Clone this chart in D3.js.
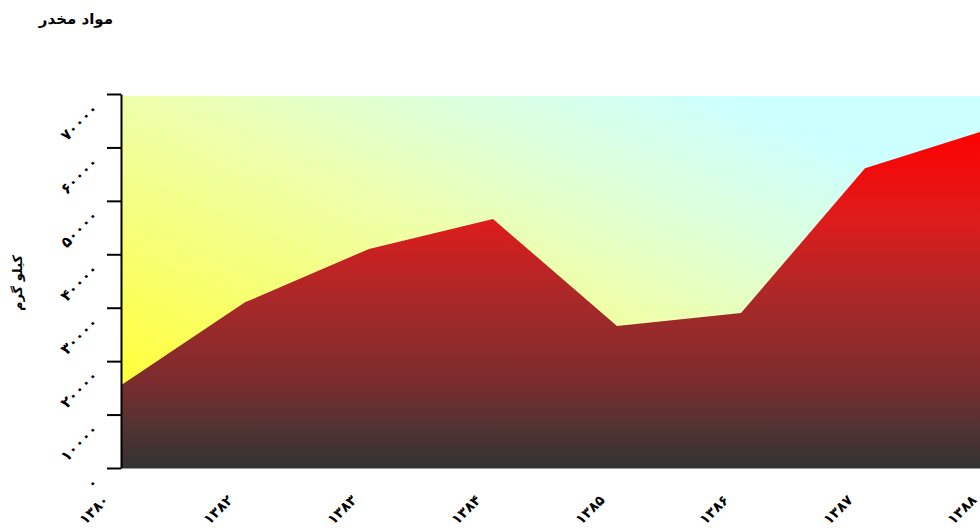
<!DOCTYPE html>
<html>
<head>
<meta charset="utf-8">
<script src="https://cdn.jsdelivr.net/npm/d3@7"></script>
<style>
  body { margin: 0; background: #fff; }
  text { font-family: "DejaVu Sans", sans-serif; }
</style>
</head>
<body>
<div id="chart"></div>
<script>
// data
var years = [1380, 1382, 1383, 1384, 1385, 1386, 1387, 1388];
var kilos = [15500, 31000, 41000, 46600, 26600, 29000, 56100, 63400];
var yTicks = [0, 10000, 20000, 30000, 40000, 50000, 60000, 70000];
var title = "مواد مخدر";
var yTitle = "کیلو گرم";

var svgWidth = 980;
var svgHeight = 531;

// plot box
var plotLeft = 121, plotRight = 989, plotTop = 96, plotBottom = 468;

var faDigits = "۰۱۲۳۴۵۶۷۸۹";
function toFa(n) {
  return String(n).replace(/\d/g, d => faDigits[d]);
}

var svg = d3.select("#chart")
  .append("svg")
  .attr("width", svgWidth)
  .attr("height", svgHeight);

var x = d3.scalePoint()
  .domain(years)
  .range([plotLeft, plotRight]);

var y = d3.scaleLinear()
  .domain([0, 70000])
  .range([plotBottom, 94]);

var defs = svg.append("defs");

// background: yellow bottom-left to cyan top-right
var bg = defs.append("linearGradient")
  .attr("id", "bgGrad")
  .attr("x1", 0).attr("y1", 1)
  .attr("x2", 1).attr("y2", 0);
[[0, "#ffff22"], [0.15, "#ffff44"], [0.5, "#eeffaa"], [0.68, "#dcffdc"], [0.85, "#ccffff"], [1, "#ccffff"]]
  .forEach(s => bg.append("stop").attr("offset", s[0]).attr("stop-color", s[1]));

// area: red at top to dark grey at bottom
var ag = defs.append("linearGradient")
  .attr("id", "areaGrad")
  .attr("x1", 0).attr("y1", 0)
  .attr("x2", 0).attr("y2", 1);
[[0, "#ff0000"], [0.27, "#dd1c1c"], [0.5, "#aa2828"], [0.75, "#7a2c2e"], [0.87, "#553232"], [1, "#333333"]]
  .forEach(s => ag.append("stop").attr("offset", s[0]).attr("stop-color", s[1]));

svg.append("rect")
  .attr("x", plotLeft)
  .attr("y", plotTop)
  .attr("width", plotRight - plotLeft)
  .attr("height", plotBottom - plotTop)
  .attr("fill", "url(#bgGrad)");

var area = d3.area()
  .x((d, i) => x(years[i]))
  .y0(y(0))
  .y1(d => y(d));

svg.append("path")
  .datum(kilos)
  .attr("d", area)
  .attr("fill", "url(#areaGrad)");

// x axis
var xAxis = svg.append("g")
  .attr("transform", `translate(0, ${plotBottom})`)
  .call(d3.axisBottom(x).tickSize(0).tickFormat(toFa));
xAxis.select(".domain").attr("stroke", "#999").attr("stroke-width", 1);
xAxis.selectAll("text")
  .attr("x", 0).attr("y", 0).attr("dy", null)
  .attr("text-anchor", "end")
  .attr("transform", "translate(-12, 33) rotate(-45)")
  .attr("font-size", 14)
  .attr("font-weight", "bold")
  .attr("fill", "#000");

// y axis
var yAxis = svg.append("g")
  .attr("transform", `translate(${plotLeft}, 0)`)
  .call(d3.axisLeft(y).tickValues(yTicks).tickSize(14).tickSizeOuter(0).tickFormat(toFa));
yAxis.select(".domain").attr("stroke", "#000").attr("stroke-width", 2);
yAxis.selectAll("line").attr("stroke", "#000").attr("stroke-width", 2);
yAxis.selectAll("text")
  .attr("x", 0).attr("y", 0).attr("dy", null)
  .attr("text-anchor", "end")
  .attr("transform", "translate(-22, 15) rotate(-45)")
  .attr("font-size", 15)
  .attr("font-weight", "bold")
  .attr("fill", "#000");

// titles
svg.append("text")
  .attr("x", 113)
  .attr("y", 24)
  .attr("text-anchor", "end")
  .attr("font-size", 15)
  .attr("font-weight", "bold")
  .text(title);

svg.append("text")
  .attr("transform", "translate(22, 283) rotate(-90)")
  .attr("text-anchor", "middle")
  .attr("font-size", 13)
  .attr("font-weight", "bold")
  .text(yTitle);
</script>
</body>
</html>
